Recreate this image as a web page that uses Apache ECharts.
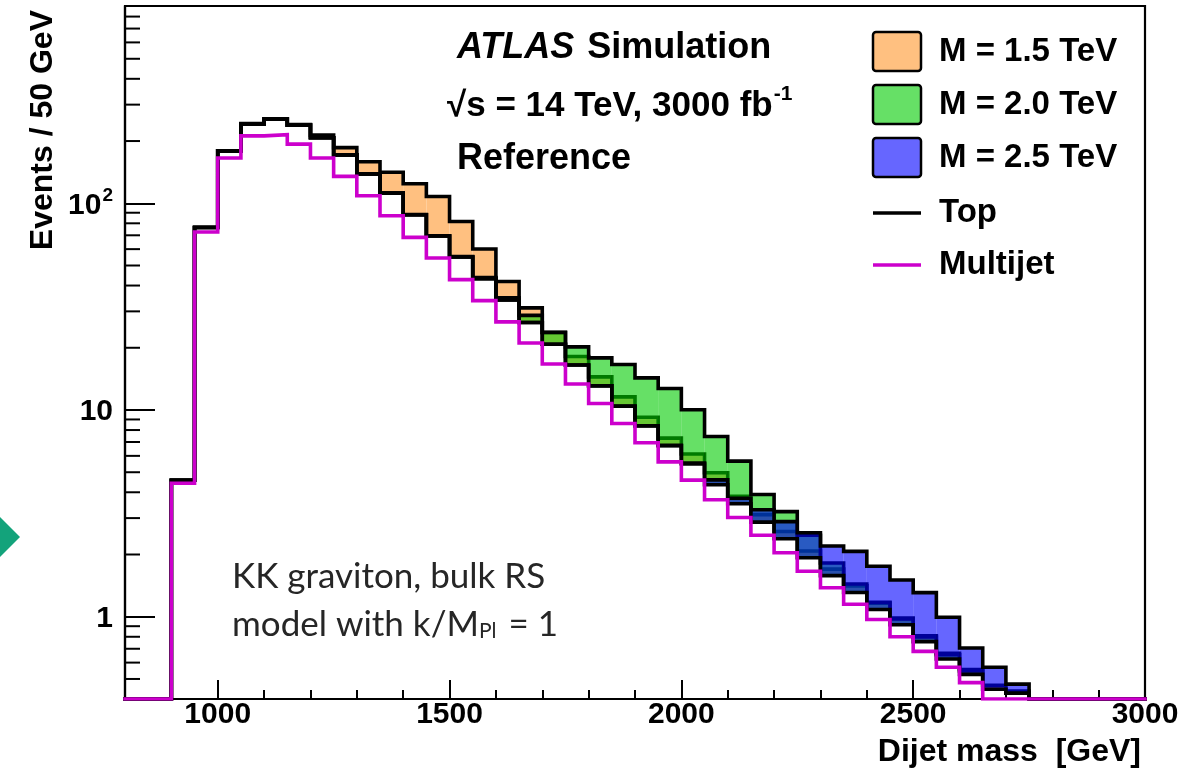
<!DOCTYPE html>
<html><head><meta charset="utf-8">
<script src="https://cdn.jsdelivr.net/npm/echarts@6/dist/echarts.min.js"></script>
<style>html,body{margin:0;padding:0;background:#fff}#c{width:1203px;height:780px}</style>
</head><body><div id="c"></div>
<script>
// ---- data ----
const binEdges = [800, 850, 900, 950, 1000, 1050, 1100, 1150, 1200, 1250, 1300, 1350, 1400, 1450, 1500, 1550, 1600, 1650, 1700, 1750, 1800, 1850, 1900, 1950, 2000, 2050, 2100, 2150, 2200, 2250, 2300, 2350, 2400, 2450, 2500, 2550, 2600, 2650, 2700, 2750, 2800, 2850, 2900, 2950, 3000];
const multijet = [0, 0, 4.42, 72.6, 165.5, 211.9, 214.8, 193.2, 165.7, 135.0, 108.7, 87.0, 68.4, 54.4, 42.7, 33.8, 26.7, 21.1, 16.7, 13.35, 10.75, 8.61, 6.94, 5.61, 4.58, 3.68, 3.02, 2.48, 2.04, 1.66, 1.38, 1.15, 0.97, 0.80, 0.68, 0.57, 0.48, 0.39, 0.36, 0.30, 0, 0, 0, 0];
const topBkg = [0, 0, 0.15, 3.8, 13.8, 30.3, 40.4, 45.5, 41.6, 36.5, 30.1, 25.0, 19.6, 15.0, 12.3, 9.4, 7.4, 5.4, 4.1, 3.15, 2.34, 1.82, 1.43, 1.10, 0.90, 0.67, 0.50, 0.39, 0.345, 0.27, 0.20, 0.16, 0.114, 0.115, 0.078, 0.055, 0.046, 0.056, 0.067, 0.04, 0, 0, 0, 0];
const sigM15 = [0, 0, 0, 0.1, 0.3, 0.5, 0.8, 1.5, 6.3, 14.3, 19.9, 29.2, 36.2, 38.5, 26.6, 16.9, 7.75, 4.7, 2.9, 1.64, 1.38, 1.15, 0.86, 0.6, 0.65, 0.62, 0.3, 0.25, 0.2, 0.15, 0.12, 0.1, 0.08, 0.07, 0.05, 0.04, 0.03, 0.02, 0.01, 0, 0, 0, 0, 0];
const sigM20 = [0, 0, 0, 0, 0, 0, 0, 0, 0, 0, 0, 0, 0.1, 0.2, 0.3, 0.5, 0.8, 2.2, 2.95, 3.7, 4.78, 6.16, 5.94, 5.99, 4.55, 3.10, 2.14, 1.03, 0.84, 0.55, 0.24, 0.13, 0.09, 0.06, 0.04, 0.03, 0.02, 0, 0, 0, 0, 0, 0, 0];
const sigM25 = [0, 0, 0, 0, 0, 0, 0, 0, 0, 0, 0, 0, 0, 0, 0, 0, 0, 0, 0, 0, 0.01, 0.01, 0.02, 0.03, 0.06, 0.24, 0.22, 0.42, 0.50, 0.62, 0.62, 0.76, 0.67, 0.59, 0.55, 0.37, 0.18, 0.124, 0.045, 0.02, 0, 0, 0, 0];
const yMinorTickValues = [0.5, 0.6, 0.7, 0.8, 0.9, 2, 3, 4, 5, 6, 7, 8, 9, 20, 30, 40, 50, 60, 70, 80, 90, 200, 300, 400, 500, 600, 700, 800];
const legendLabels = ['M = 1.5 TeV', 'M = 2.0 TeV', 'M = 2.5 TeV', 'Top', 'Multijet'];

// ---- derived ----
const Y_MIN = 0.4, Y_MAX = 900;
const nBins = binEdges.length - 1;
const bkg = multijet.map((v, i) => v + topBkg[i]);
const tot15 = bkg.map((v, i) => v + sigM15[i]);
const tot20 = bkg.map((v, i) => v + sigM20[i]);
const tot25 = bkg.map((v, i) => v + sigM25[i]);
const clampY = v => Math.max(v, Y_MIN);
function stepData(arr) {
  return binEdges.map((e, i) => [e, clampY(arr[Math.min(i, nBins - 1)])]);
}
function bandData(total) {
  const out = [];
  for (let i = 0; i < nBins; i++) {
    if (total[i] > bkg[i] && total[i] > Y_MIN) out.push([binEdges[i], binEdges[i + 1], bkg[i], total[i]]);
  }
  return out;
}
function bandSeries(total, color, z) {
  return {
    type: 'custom', z: z, clip: true, silent: true,
    data: bandData(total),
    encode: { x: [0, 1], y: [2, 3] },
    renderItem: function (params, api) {
      const lo = api.value(0), hi = api.value(1);
      const b = clampY(api.value(2)), t = clampY(api.value(3));
      const p0 = api.coord([lo, t]), p1 = api.coord([hi, b]);
      return { type: 'rect', shape: { x: p0[0], y: p0[1], width: p1[0] - p0[0], height: p1[1] - p0[1] }, style: { fill: color } };
    }
  };
}
function lineSeries(arr, color, z) {
  return {
    type: 'line', step: 'end', z: z, symbol: 'none', silent: true, clip: true,
    data: stepData(arr),
    lineStyle: { color: color, width: 3.6, join: 'miter', cap: 'square' }
  };
}

const FONT = 'Liberation Sans, Arial, Helvetica, sans-serif';
const chart = echarts.init(document.getElementById('c'), null, { renderer: 'canvas' });

const legendGraphics = [];
const boxColors = ['#FFC080', '#66E066', '#6666FF'];
const rowY = [52, 105, 158, 213, 265];
for (let i = 0; i < 5; i++) {
  if (i < 3) {
    legendGraphics.push({ type: 'rect', shape: { x: 873, y: rowY[i] - 20, width: 48, height: 39, r: 3 }, style: { fill: boxColors[i], stroke: '#000', lineWidth: 2.5 }, z: 100 });
  } else {
    legendGraphics.push({ type: 'line', shape: { x1: 873, y1: rowY[i], x2: 921, y2: rowY[i] }, style: { stroke: i === 3 ? '#000' : '#CC00CC', lineWidth: 3.5 }, z: 100 });
  }
  legendGraphics.push({ type: 'text', x: 939, y: rowY[i], style: { text: legendLabels[i], fontSize: 33, fontWeight: 'bold', fontFamily: FONT, fill: '#000', align: 'left', verticalAlign: 'middle' }, z: 100 });
}

const option = {
  animation: false,
  backgroundColor: '#fff',
  grid: { left: 125, right: 58, top: 6, bottom: 81, show: true, borderColor: '#000', borderWidth: 2.2, backgroundColor: 'transparent' },
  xAxis: {
    type: 'value', min: 800, max: 3000,
    axisLine: { show: true, lineStyle: { color: '#000', width: 2.2 } },
    axisTick: { show: true, inside: true, length: 19, lineStyle: { color: '#000', width: 2 } },
    minorTick: { show: true, splitNumber: 5, length: 9, lineStyle: { color: '#000', width: 2 } },
    splitLine: { show: false }, minorSplitLine: { show: false },
    axisLabel: { showMinLabel: false, fontSize: 30, fontWeight: 'bold', fontFamily: FONT, color: '#000', margin: 1, formatter: v => String(v) }
  },
  yAxis: {
    type: 'log', logBase: 10, min: Y_MIN, max: Y_MAX,
    axisLine: { show: true, lineStyle: { color: '#000', width: 2.2 } },
    axisTick: { show: true, inside: true, length: 30, lineStyle: { color: '#000', width: 2 } },
    splitLine: { show: false },
    axisLabel: {
      showMinLabel: false, showMaxLabel: false, margin: 12, color: '#000',
      formatter: function (v) {
        const e = Math.round(Math.log10(v));
        if (e === 0) return '{b|1}';
        if (e === 1) return '{b|10}';
        return '{b|10}{s|' + e + '}';
      },
      rich: {
        b: { fontSize: 30, fontWeight: 'bold', fontFamily: FONT, color: '#000', lineHeight: 34, verticalAlign: 'bottom' },
        s: { fontSize: 19, fontWeight: 'bold', fontFamily: FONT, color: '#000', lineHeight: 34, verticalAlign: 'top', padding: [0, 0, 12, 1] }
      }
    }
  },
  graphic: [
    { type: 'text', x: 43, y: 10, rotation: Math.PI / 2, style: { text: 'Events / 50 GeV', fontSize: 32, fontWeight: 'bold', fontFamily: FONT, fill: '#000', align: 'right', verticalAlign: 'middle' } },
    { type: 'text', x: 1141, y: 752, style: { text: 'Dijet mass  [GeV]', fontSize: 32, fontWeight: 'bold', fontFamily: FONT, fill: '#000', align: 'right', verticalAlign: 'middle' } },
    { type: 'text', x: 457, y: 48, style: { text: '{i|ATLAS}{b| Simulation}', align: 'left', verticalAlign: 'middle', rich: { i: { fontSize: 36, fontWeight: 'bold', fontStyle: 'italic', fontFamily: FONT, fill: '#000', padding: [0, 3, 0, 0] }, b: { fontSize: 36, fontWeight: 'bold', fontFamily: FONT, fill: '#000' } } }, z: 100 },
    { type: 'text', x: 447, y: 104, style: { text: '{b|\u221As = 14 TeV, 3000 fb}{s|-1}', align: 'left', verticalAlign: 'middle', rich: { b: { fontSize: 35, fontWeight: 'bold', fontFamily: FONT, fill: '#000', lineHeight: 40, verticalAlign: 'bottom' }, s: { fontSize: 21, fontWeight: 'bold', fontFamily: FONT, fill: '#000', lineHeight: 40, verticalAlign: 'top', padding: [0, 0, 14, 1] } } }, z: 100 },
    { type: 'text', x: 457, y: 159, style: { text: 'Reference', fontSize: 36, fontWeight: 'bold', fontFamily: FONT, fill: '#000', align: 'left', verticalAlign: 'middle' }, z: 100 },
    { type: 'text', x: 232, y: 577, style: { text: 'KK graviton, bulk RS', fontSize: 35, fontFamily: 'Lato, Open Sans, sans-serif', fill: '#262626', align: 'left', verticalAlign: 'middle' }, z: 100 },
    { type: 'text', x: 232, y: 620, style: { text: '{a|model with k/M}{p|Pl}{a| = 1}', align: 'left', verticalAlign: 'middle', rich: { a: { fontSize: 35, fontFamily: 'Lato, Open Sans, sans-serif', fill: '#262626', lineHeight: 44, verticalAlign: 'bottom' }, p: { fontSize: 21, fontFamily: 'Lato, Open Sans, sans-serif', fill: '#262626', lineHeight: 44, verticalAlign: 'bottom', padding: [0, 3, 0, 0] } } }, z: 100 },
    { type: 'polygon', shape: { points: [[0, 517], [20, 537], [0, 557]] }, style: { fill: '#13A37B' } }
  ].concat(legendGraphics),
  series: [
    bandSeries(tot15, '#FFC080', 2),
    lineSeries(tot15, '#000', 3),
    bandSeries(tot20, 'rgba(0,204,0,0.6)', 4),
    lineSeries(tot20, '#000', 5),
    bandSeries(tot25, 'rgba(0,0,255,0.6)', 6),
    lineSeries(tot25, '#000', 7),
    lineSeries(bkg, '#000', 8),
    lineSeries(multijet, '#CC00CC', 9),
    {
      type: 'custom', z: 10, silent: true,
      data: yMinorTickValues.map(v => [800, v]),
      encode: { x: 0, y: 1 },
      renderItem: function (params, api) {
        const p = api.coord([api.value(0), api.value(1)]);
        return { type: 'line', shape: { x1: p[0], y1: p[1], x2: p[0] + 15, y2: p[1] }, style: { stroke: '#000', lineWidth: 2 } };
      }
    }
  ]
};
chart.setOption(option);
</script>
</body></html>
